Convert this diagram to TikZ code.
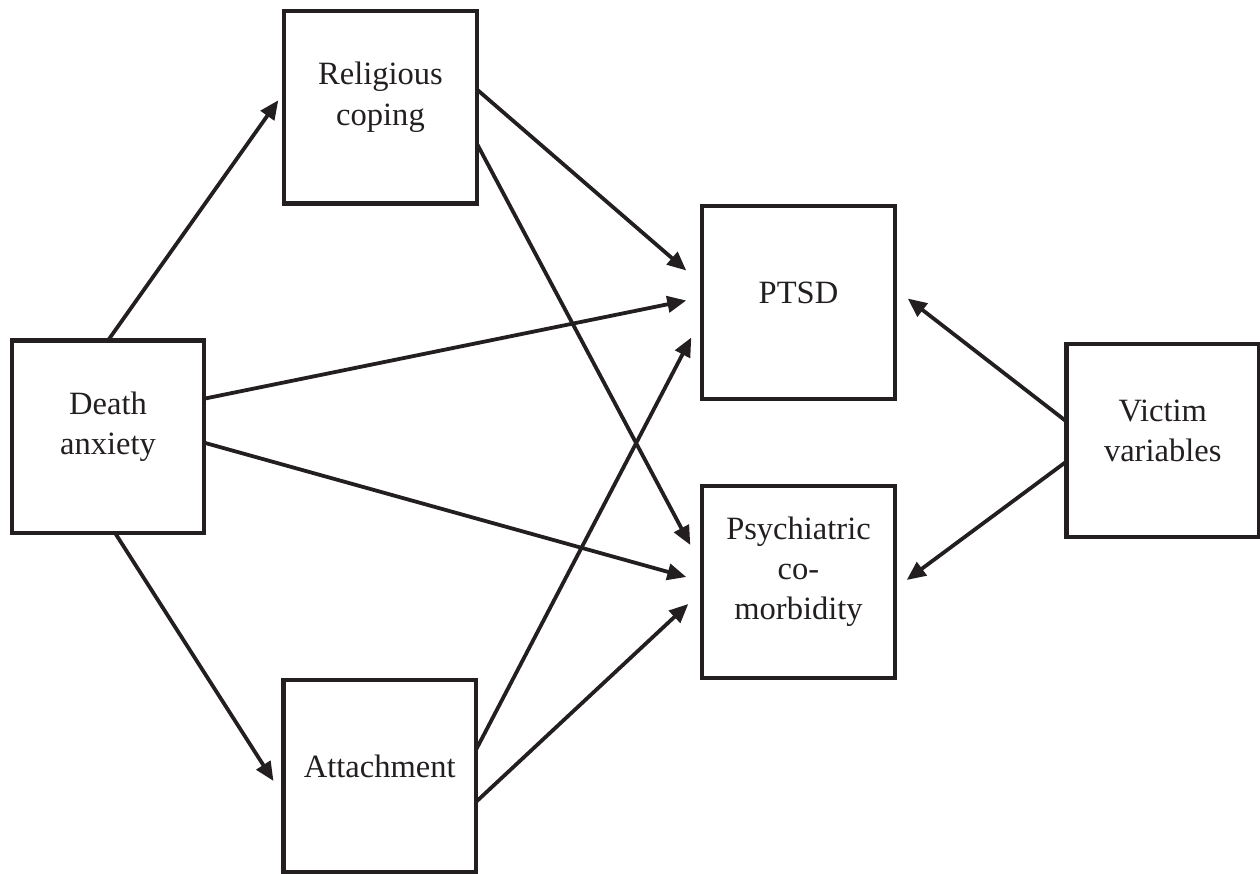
\documentclass[tikz,border=0pt]{standalone}
\usepackage{fontspec}
\setmainfont{Liberation Serif}
\usetikzlibrary{arrows.meta,positioning}
\definecolor{ink}{HTML}{231F20}
\tikzset{
  box/.style     = {draw=ink, line width=1.5pt, rectangle, minimum size=71pt,
                    inner sep=0pt, outer sep=0pt},
  boxtext/.style = {align=center, text=ink, font=\fontsize{12}{14.8}\selectfont,
                    yshift=3.7pt},
  link/.style    = {draw=ink, line width=1.4pt,
                    -{Triangle[length=7pt,width=6pt]}}
}

\begin{document}
\begin{tikzpicture}[x=0.369pt, y=-0.369pt]
	\useasboundingbox (0,0) rectangle (1260,874);
	
	% predictors, left and middle column
	\node[box, label={[boxtext]center:Death\\anxiety}] (death) at (108,436.7) {};
	\node[box, label={[boxtext]center:Religious\\coping}] (relig) at (380.5,107.3) {};
	\node[box, label={[boxtext]center:Attachment}] (attach) at (379.7,776) {};
	
	% outcomes and the victim variables
	\node[box, label={[boxtext]center:PTSD}] (ptsd) at (798.5,302.5) {};
	\node[box, label={[boxtext]center:Psychiatric\\co-\\morbidity}] (comorb) at (798.5,582) {};
	\node[box, label={[boxtext]center:Victim\\variables}] (victim) at (1162.7,440.5) {};
	
	% paths from death anxiety
	\draw[link] (death.north) -- ([shift={(-6,-7)}]relig.west);
	\draw[link] ([shift={(7,0)}]death.south) -- ([shift={(-10,5)}]attach.west);
	\draw[link] ([shift={(0,-38)}]death.east) -- ([shift={(-16,-2)}]ptsd.west);
	\draw[link] ([shift={(0,6)}]death.east) -- ([shift={(-16,-5)}]comorb.west);
	
	% paths from the mediators
	\draw[link] ([shift={(0,-18)}]relig.east) -- ([shift={(-16,-32)}]ptsd.west);
	\draw[link] ([shift={(0,36)}]relig.east) -- ([shift={(-12,-37)}]comorb.west);
	\draw[link] ([shift={(0,-26)}]attach.east) -- ([shift={(-11,35)}]ptsd.west);
	\draw[link] ([shift={(0,26)}]attach.east) -- ([shift={(-14,22)}]comorb.west);
	
	% victim variables to both outcomes
	\foreach \dst/\dy/\tx/\ty in {ptsd/-19/13/-4, comorb/21/12/-2}
	  \draw[link] ([shift={(0,\dy)}]victim.west) -- ([shift={(\tx,\ty)}]\dst.east);
	
\end{tikzpicture}
\end{document}
